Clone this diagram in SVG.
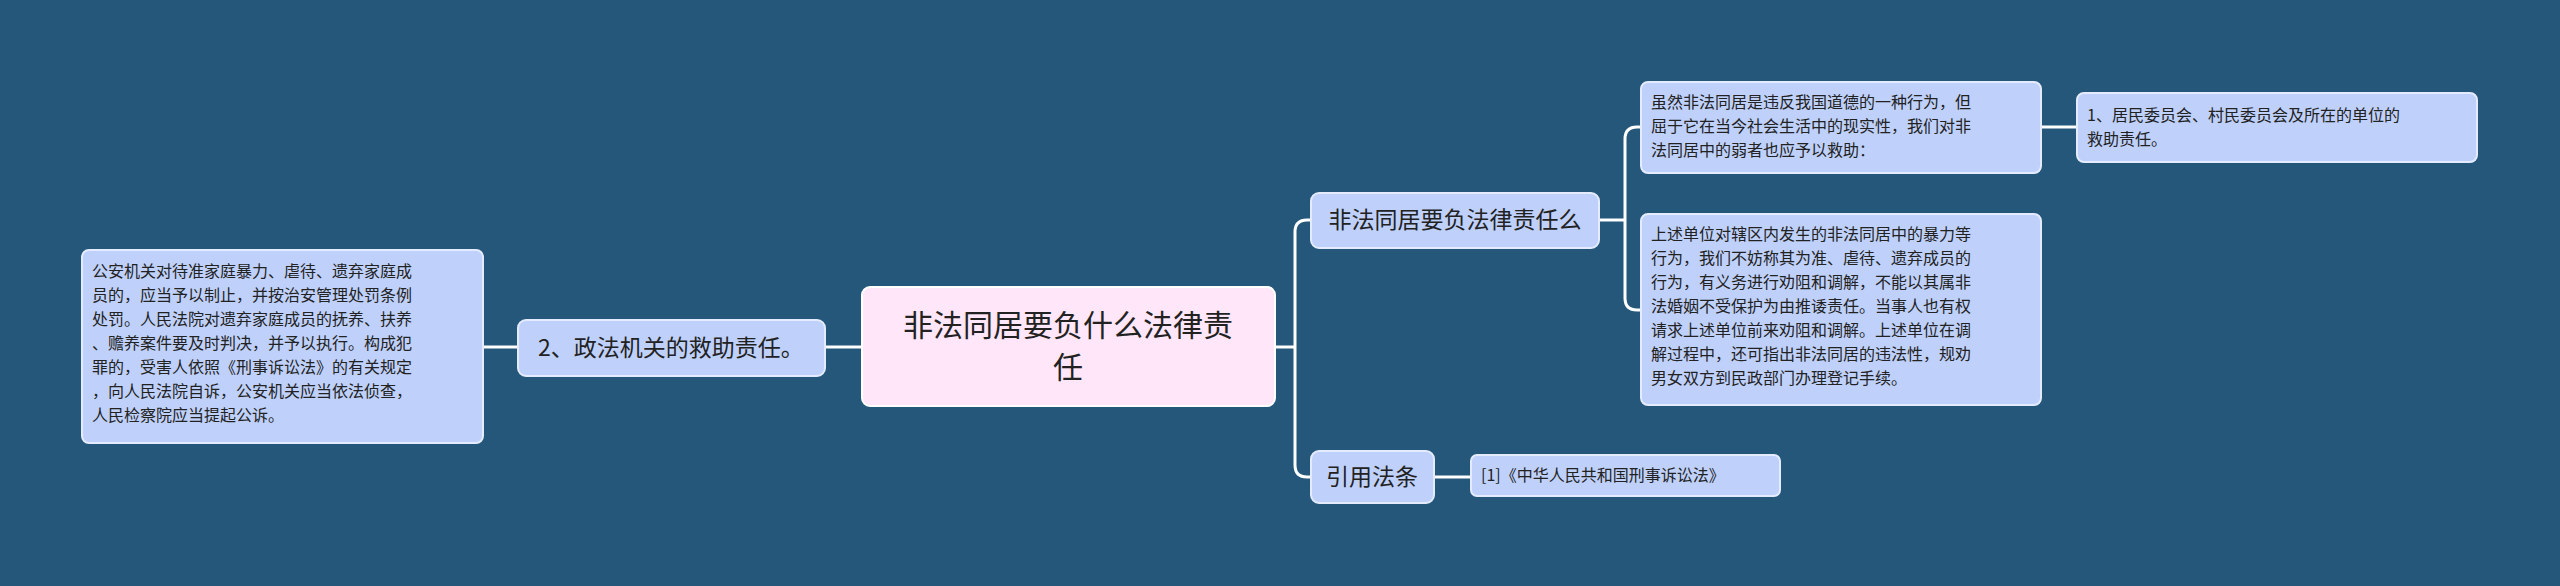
<svg xmlns="http://www.w3.org/2000/svg" width="2560" height="586" viewBox="0 0 2560 586">
<style>
text{font-family:"Noto Sans CJK SC","Noto Sans",sans-serif;fill:#222;}
.n{fill:#bfd1fb;stroke:#e4ebff;stroke-width:2;}
.c{fill:none;stroke:#ffffff;stroke-width:3;}
.s{font-size:16px;}
.m{font-size:23px;}
</style>
<rect width="2560" height="586" fill="#245779"/>
<g id="connectors">
<path class="c" d="M1275 347 H1295 M1295 232 V465 M1295 232 Q1295 220 1307 220 H1311 M1295 465 Q1295 477 1307 477 H1311"/>
<path class="c" d="M1599 220 H1625 M1625 139 V298 M1625 139 Q1625 127 1637 127 H1641 M1625 298 Q1625 310 1637 310 H1641"/>
<path class="c" d="M2041 127 H2077"/>
<path class="c" d="M1434 477 H1471"/>
<path class="c" d="M862 347 H825 M518 347 H483"/>
</g>
<g id="center"><rect x="862" y="287" width="413" height="119" rx="8" fill="#ffe6f8" stroke="#ffffff" stroke-width="2"/>
<text x="1068" y="336" font-size="30" text-anchor="middle">非法同居要负什么法律责</text>
<text x="1068" y="378" font-size="30" text-anchor="middle">任</text></g>
<g id="n-left"><rect class="n" x="518" y="320" width="307" height="56" rx="8"/>
<text class="m" x="671" y="356" text-anchor="middle">2、政法机关的救助责任。</text></g>
<g id="n-farleft"><rect class="n" x="82" y="250" width="401" height="193" rx="7"/>
<text class="s"><tspan x="92" y="277">公安机关对待准家庭暴力、虐待、遗弃家庭成</tspan><tspan x="92" y="301">员的，应当予以制止，并按治安管理处罚条例</tspan><tspan x="92" y="325">处罚。人民法院对遗弃家庭成员的抚养、扶养</tspan><tspan x="92" y="349">、赡养案件要及时判决，并予以执行。构成犯</tspan><tspan x="92" y="373">罪的，受害人依照《刑事诉讼法》的有关规定</tspan><tspan x="92" y="397">，向人民法院自诉，公安机关应当依法侦查，</tspan><tspan x="92" y="421">人民检察院应当提起公诉。</tspan></text></g>
<g id="n-liability"><rect class="n" x="1311" y="193" width="288" height="55" rx="8"/>
<text class="m" x="1455" y="228" text-anchor="middle">非法同居要负法律责任么</text></g>
<g id="n-cite"><rect class="n" x="1311" y="451" width="123" height="52" rx="8"/>
<text class="m" x="1372" y="485" text-anchor="middle">引用法条</text></g>
<g id="n-a"><rect class="n" x="1641" y="82" width="400" height="91" rx="7"/>
<text class="s"><tspan x="1651" y="108">虽然非法同居是违反我国道德的一种行为，但</tspan><tspan x="1651" y="132">屈于它在当今社会生活中的现实性，我们对非</tspan><tspan x="1651" y="156">法同居中的弱者也应予以救助：</tspan></text></g>
<g id="n-b"><rect class="n" x="1641" y="214" width="400" height="191" rx="7"/>
<text class="s"><tspan x="1651" y="240">上述单位对辖区内发生的非法同居中的暴力等</tspan><tspan x="1651" y="264">行为，我们不妨称其为准、虐待、遗弃成员的</tspan><tspan x="1651" y="288">行为，有义务进行劝阻和调解，不能以其属非</tspan><tspan x="1651" y="312">法婚姻不受保护为由推诿责任。当事人也有权</tspan><tspan x="1651" y="336">请求上述单位前来劝阻和调解。上述单位在调</tspan><tspan x="1651" y="360">解过程中，还可指出非法同居的违法性，规劝</tspan><tspan x="1651" y="384">男女双方到民政部门办理登记手续。</tspan></text></g>
<g id="n-farright"><rect class="n" x="2077" y="93" width="400" height="69" rx="7"/>
<text class="s"><tspan x="2087" y="121">1、居民委员会、村民委员会及所在的单位的</tspan><tspan x="2087" y="145">救助责任。</tspan></text></g>
<g id="n-law"><rect class="n" x="1471" y="455" width="309" height="41" rx="6"/>
<text class="s" x="1481" y="481">[1]《中华人民共和国刑事诉讼法》</text></g>
</svg>
